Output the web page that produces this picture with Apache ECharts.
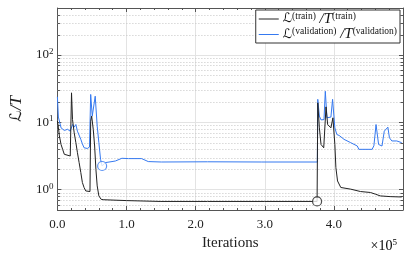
<!DOCTYPE html>
<html><head><meta charset="utf-8">
<script src="https://cdn.jsdelivr.net/npm/echarts@6/dist/echarts.min.js"></script>
<style>html,body{margin:0;padding:0;background:#fff}#c{width:415px;height:257px}</style>
</head><body><div id="c"></div><script>
// ---- data (iterations, loss / T) ----
const trainIter = [0,1430,2860,5290,7570,10000,12430,18570,20000,20430,21860,24290,26710,29000,31430,33860,36140,38570,41000,47140,48140,49570,51860,53860,55710,57570,60000,63290,67140,100000,148570,217000,300000,375700,376700,379000,381400,385300,388600,391000,395700,398600,401400,402900,405300,410000,424300,438600,452900,460000,467100,481400,498100];
const trainLoss = [10.5,8.5,6.3,4.7,3.98,3.36,3.17,3.17,3.17,27.5,11,7.0,5.0,3.55,2.53,1.8,1.28,1.08,0.96,0.94,10.4,12.4,7.9,4.46,2.0,1.14,0.81,0.72,0.71,0.69,0.67,0.67,0.67,0.67,19.5,8.3,4.7,4.2,17,9.3,8.3,11.7,4.7,2.13,1.35,1.08,1.02,0.94,0.91,0.86,0.81,0.79,0.78];
const valIter = [0,1430,5290,7570,10000,14710,18570,20000,21860,22860,24290,26710,29000,31430,33860,36140,38570,43290,46430,48140,50430,51860,54710,57570,60000,62430,64710,69570,79000,83860,93290,102860,121860,131430,150430,217140,295700,376100,376700,379000,381400,385700,387600,390000,395700,398100,401400,404300,407600,414700,424300,433900,436100,455300,457900,461000,464700,469600,472900,475700,478100,480400,483900,491000,498100];
const valLoss = [24,12,8.3,7.9,7.6,7.9,7.4,7.7,9.3,9.9,8.5,9.3,7.4,7.0,5.6,4.8,4.2,4.1,4.3,26,12.4,11.7,24.5,8.8,5.0,2.83,2.25,2.53,2.62,2.67,2.93,2.9,2.9,2.62,2.58,2.6,2.58,2.58,22,12.4,10.9,11,29,11.7,12,22,8.3,6.6,6.4,5.6,5.0,4.46,3.98,3.98,4.5,9.3,4.7,4.46,7.4,7.0,8.5,5.9,5.3,5.3,5.0];
const trainMarkerIter = [375700];
const trainMarkerLoss = [0.67];
const valMarkerIter = [64710];
const valMarkerLoss = [2.25];
const xMin = 0, xMax = 500000, xStep = 100000;
const yMin = 0.5, yMax = 500;
const yMinorGrid = [0.6,0.7,0.8,0.9,2,3,4,5,6,7,8,9,20,30,40,50,60,70,80,90,200,300,400];

const zip = (a, b) => a.map((v, i) => [v, b[i]]);
const SERIF = 'Liberation Serif, DejaVu Serif, serif';
const MATH = 'DejaVu Sans, Noto Sans, serif';
const AX = '#555';
const BLACK = '#222222';
const BLUE = '#3579f0';

const chart = echarts.init(document.getElementById('c'), null, {renderer: 'canvas'});
const supRich = {
  b: {fontFamily: SERIF, fontSize: 13, lineHeight: 16, color: '#222'},
  s: {fontFamily: SERIF, fontSize: 9, lineHeight: 9, verticalAlign: 'top', color: '#222'}
};
const legendRich = {
  m: {fontFamily: MATH, fontStyle: 'italic', fontSize: 13, lineHeight: 16, color: '#111'},
  i: {fontFamily: SERIF, fontStyle: 'italic', fontSize: 15, lineHeight: 16, color: '#111'},
  s: {fontFamily: SERIF, fontSize: 9.5, lineHeight: 9, verticalAlign: 'top', color: '#111'}
};
const commonX = {
  type: 'value', min: xMin, max: xMax, interval: xStep,
  axisLine: {show: true, onZero: false, lineStyle: {color: AX, width: 1}},
  axisTick: {show: true, inside: true, length: 4, lineStyle: {color: AX}},
  minorTick: {show: true, splitNumber: 5, length: 2, lineStyle: {color: AX}}
};
const commonY = {
  type: 'log', logBase: 10, min: yMin, max: yMax,
  axisLine: {show: true, onZero: false, lineStyle: {color: AX, width: 1}},
  axisTick: {show: true, inside: true, length: 4, lineStyle: {color: AX}}
};
const isPow10 = v => Math.abs(Math.log10(v) - Math.round(Math.log10(v))) < 1e-6;

chart.setOption({
  animation: false,
  backgroundColor: '#fff',
  grid: {left: 53, right: 12, top: 8, bottom: 47, containLabel: false},
  xAxis: [
    Object.assign({}, commonX, {
      position: 'bottom',
      name: 'Iterations', nameLocation: 'middle', nameGap: 24,
      nameTextStyle: {fontFamily: SERIF, fontSize: 15, color: '#222'},
      axisLabel: {show: true, margin: 8, fontFamily: SERIF, fontSize: 13, color: '#222',
        showMaxLabel: false,
        formatter: v => (v >= xMax ? '' : (v / 1e5).toFixed(1))},
      splitLine: {show: true, lineStyle: {color: '#e3e3e3', width: 1}}
    }),
    Object.assign({}, commonX, {
      position: 'top', axisLabel: {show: false}, splitLine: {show: false}
    })
  ],
  yAxis: [
    Object.assign({}, commonY, {
      position: 'left',
      name: '{L|ℒ}{t|/T}', nameLocation: 'middle', nameGap: 30, nameRotate: 90,
      nameTextStyle: {rich: {
        L: {fontFamily: MATH, fontStyle: 'italic', fontSize: 16, color: '#222'},
        t: {fontFamily: SERIF, fontStyle: 'italic', fontSize: 17, color: '#222'}
      }},
      axisLabel: {show: true, margin: 4, showMinLabel: false, showMaxLabel: false,
        formatter: v => isPow10(v) ? '{b|10}{s|' + Math.round(Math.log10(v)) + '}' : '',
        rich: supRich},
      splitLine: {show: true, lineStyle: {color: '#e3e3e3', width: 1}}
    }),
    Object.assign({}, commonY, {
      position: 'right', axisLabel: {show: false}, splitLine: {show: false}
    })
  ],
  legend: {
    data: ['train', 'validation'],
    orient: 'vertical', right: 15, top: 10,
    backgroundColor: '#fff', borderColor: '#333', borderWidth: 1, borderRadius: 0,
    padding: [1, 3, 1, 3], itemGap: 0, itemWidth: 20, itemHeight: 1,
    icon: 'rect',
    textStyle: {rich: legendRich, padding: [0, 0, 0, -1]},
    formatter: n => n === 'train'
      ? '{m|ℒ}{s|(train)}{i| /T}{s|(train)}'
      : '{m|ℒ}{s|(validation)}{i| /T}{s|(validation)}'
  },
  graphic: [{
    type: 'text', right: 18, bottom: 4,
    style: {text: '{b|×10}{s|5}', rich: {
      b: {fontFamily: SERIF, fontSize: 14, lineHeight: 16, color: '#222'},
      s: {fontFamily: SERIF, fontSize: 9, lineHeight: 9, verticalAlign: 'top', color: '#222'}
    }}
  }],
  series: [
    {
      type: 'custom', silent: true, z: 1, xAxisIndex: 0, yAxisIndex: 0,
      data: yMinorGrid.map(v => [xMin, v]),
      renderItem: (params, api) => {
        const cs = params.coordSys;
        const y = Math.round(api.coord([xMin, api.value(1)])[1]) + 0.5;
        const x0 = cs.x, x1 = cs.x + cs.width;
        return {type: 'group', children: [
          {type: 'line', shape: {x1: x0, y1: y, x2: x1, y2: y}, style: {stroke: '#c4c4c4', lineWidth: 1, lineDash: [1, 2]}},
          {type: 'line', shape: {x1: x0, y1: y, x2: x0 + 2.5, y2: y}, style: {stroke: AX, lineWidth: 1}},
          {type: 'line', shape: {x1: x1, y1: y, x2: x1 - 2.5, y2: y}, style: {stroke: AX, lineWidth: 1}}
        ]};
      }
    },
    {
      name: 'validation', type: 'line', z: 3, showSymbol: false, symbol: 'none',
      data: zip(valIter, valLoss), color: BLUE,
      lineStyle: {color: BLUE, width: 1}
    },
    {
      name: 'train', type: 'line', z: 4, showSymbol: false, symbol: 'none',
      data: zip(trainIter, trainLoss), color: BLACK,
      lineStyle: {color: BLACK, width: 1}
    },
    {
      type: 'scatter', z: 5, symbol: 'circle', symbolSize: 9,
      data: zip(valMarkerIter, valMarkerLoss),
      itemStyle: {color: '#fff', borderColor: BLUE, borderWidth: 1.2}
    },
    {
      type: 'scatter', z: 5, symbol: 'circle', symbolSize: 9,
      data: zip(trainMarkerIter, trainMarkerLoss),
      itemStyle: {color: '#fff', borderColor: BLACK, borderWidth: 1.2}
    }
  ]
});
</script></body></html>
